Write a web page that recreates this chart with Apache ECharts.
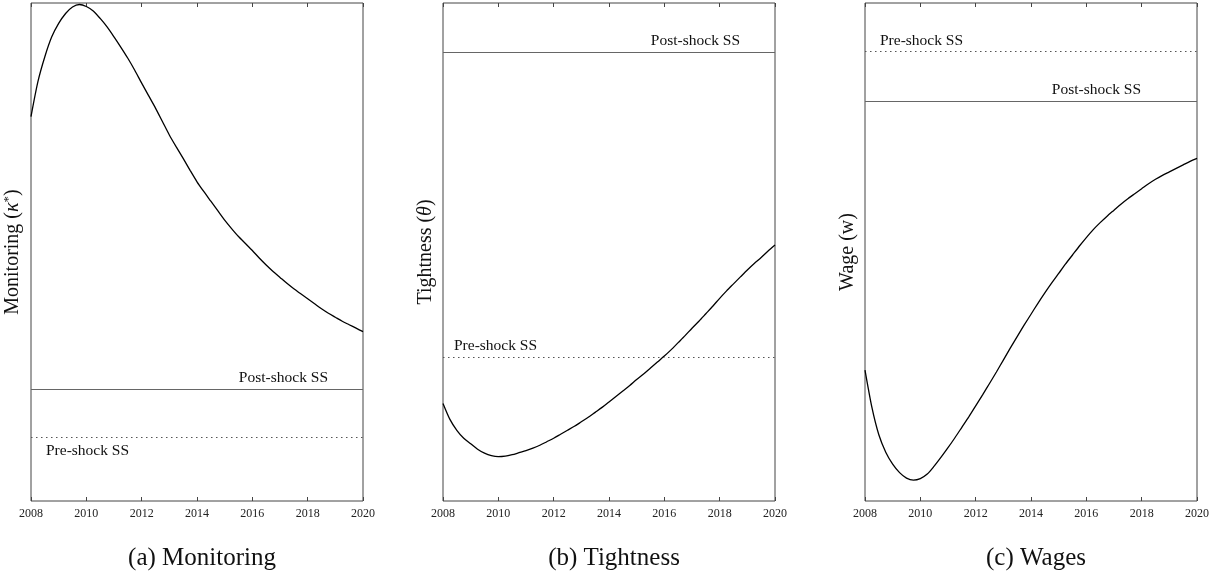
<!DOCTYPE html>
<html>
<head>
<meta charset="utf-8">
<script src="https://cdn.jsdelivr.net/npm/echarts@6/dist/echarts.min.js"></script>
<style>
  html, body { margin: 0; padding: 0; background: #fff; }
  #main { width: 1215px; height: 583px; }
</style>
</head>
<body>
<div id="main"></div>
<script>
// quarter-year grid shared by the three panels
var years = [2008, 2008.25, 2008.5, 2008.75, 2009, 2009.25, 2009.5, 2009.75,
             2010, 2010.25, 2010.5, 2010.75, 2011, 2011.25, 2011.5, 2011.75,
             2012, 2012.25, 2012.5, 2012.75, 2013, 2013.25, 2013.5, 2013.75,
             2014, 2014.25, 2014.5, 2014.75, 2015, 2015.25, 2015.5, 2015.75,
             2016, 2016.25, 2016.5, 2016.75, 2017, 2017.25, 2017.5, 2017.75,
             2018, 2018.25, 2018.5, 2018.75, 2019, 2019.25, 2019.5, 2019.75, 2020];

var monitoring = [77.2, 84.2, 89.2, 93.2, 95.9, 97.9, 99.2, 99.7,
                  99.3, 98.4, 96.9, 95.2, 93.2, 91.1, 88.9, 86.5,
                  83.9, 81.4, 78.9, 76.2, 73.5, 71.1, 68.8, 66.4,
                  64.1, 62.1, 60.2, 58.3, 56.4, 54.7, 53.1, 51.7,
                  50.3, 48.8, 47.4, 46.1, 44.9, 43.7, 42.6, 41.6,
                  40.6, 39.6, 38.6, 37.7, 36.9, 36.1, 35.4, 34.7, 34.0];

var tightness = [19.6, 16.4, 14.2, 12.6, 11.5, 10.4, 9.6, 9.1,
                 8.9, 9.0, 9.3, 9.7, 10.1, 10.6, 11.2, 11.9,
                 12.6, 13.4, 14.2, 15.0, 15.9, 16.8, 17.8, 18.8,
                 19.9, 21.0, 22.1, 23.2, 24.4, 25.5, 26.7, 27.9,
                 29.1, 30.4, 31.8, 33.2, 34.7, 36.1, 37.6, 39.1,
                 40.7, 42.2, 43.6, 45.0, 46.4, 47.7, 48.9, 50.2, 51.4];

var wages = [26.3, 18.8, 13.3, 9.8, 7.4, 5.7, 4.6, 4.2,
             4.5, 5.4, 7.0, 8.8, 10.7, 12.7, 14.8, 16.9,
             19.1, 21.3, 23.6, 25.9, 28.3, 30.7, 33.0, 35.3,
             37.5, 39.7, 41.8, 43.8, 45.7, 47.6, 49.4, 51.2,
             52.9, 54.5, 55.9, 57.2, 58.4, 59.6, 60.7, 61.7,
             62.7, 63.7, 64.6, 65.4, 66.1, 66.8, 67.5, 68.2, 68.8];

// steady states: monitoring, tightness, wages
var ssPre = [12.9, 28.9, 90.4];
var ssPost = [22.5, 90.2, 80.2];

var captions = ['(a) Monitoring', '(b) Tightness', '(c) Wages'];
var yNames = ['Monitoring ({k|κ}{s|*})', 'Tightness ({k|θ})', 'Wage (w)'];

var serif = "'Liberation Serif', 'DejaVu Serif', serif";

var chart = echarts.init(document.getElementById('main'), null, { renderer: 'canvas' });

var gridLefts = [31, 443, 865];
var grids = [], xAxes = [], yAxes = [], titles = [], series = [];

function pairs(xs, ys) {
  return xs.map(function (x, i) { return [x, ys[i]]; });
}

// label placement for the two steady-state lines in each panel
var preLabel = [
  { position: 'insideStartBottom', distance: [15, 6] },
  { position: 'insideStartTop', distance: [11, 3] },
  { position: 'insideStartTop', distance: [15, 2] }
];
var postLabel = [
  { position: 'insideEndTop', distance: [35, 3] },
  { position: 'insideEndTop', distance: [35, 3] },
  { position: 'insideEndTop', distance: [56, 4] }
];

var curves = [pairs(years, monitoring), pairs(years, tightness), pairs(years, wages)];

for (var i = 0; i < 3; i++) {
  grids.push({
    left: gridLefts[i], top: 3, width: 332, height: 498,
    show: true, borderColor: '#444', borderWidth: 1, backgroundColor: 'transparent'
  });
  // bottom axis with labels
  xAxes.push({
    type: 'value', gridIndex: i, min: 2008, max: 2020, interval: 2,
    axisLine: { show: false },
    axisTick: { show: true, inside: true, length: 4, lineStyle: { color: '#444' } },
    axisLabel: {
      color: '#222', fontFamily: serif, fontSize: 12, margin: 7,
      formatter: function (v) { return String(v); }
    },
    splitLine: { show: false }
  });
  // top axis, ticks only
  xAxes.push({
    type: 'value', gridIndex: i, position: 'top', min: 2008, max: 2020, interval: 2,
    axisLine: { show: false },
    axisTick: { show: true, inside: true, length: 4, lineStyle: { color: '#444' } },
    axisLabel: { show: false },
    splitLine: { show: false }
  });
  yAxes.push({
    type: 'value', gridIndex: i, min: 0, max: 100,
    axisLine: { show: false }, axisTick: { show: false },
    axisLabel: { show: false }, splitLine: { show: false },
    name: yNames[i], nameLocation: 'middle', nameGap: 7, nameRotate: 90,
    nameTextStyle: {
      fontFamily: serif, fontSize: 20, color: '#111',
      rich: {
        k: { fontFamily: serif, fontSize: 20, fontStyle: 'italic', color: '#111' },
        s: { fontFamily: serif, fontSize: 13, color: '#111', padding: [0, 0, 9, 0] }
      }
    }
  });
  titles.push({
    text: captions[i], left: gridLefts[i] + 166, top: 541, textAlign: 'center',
    textStyle: { fontFamily: serif, fontSize: 25, fontWeight: 'normal', color: '#111' }
  });
  series.push({
    type: 'line', xAxisIndex: i * 2, yAxisIndex: i,
    data: curves[i], showSymbol: false, smooth: 0.25, silent: true,
    lineStyle: { color: '#000', width: 1.3 },
    markLine: {
      silent: true, symbol: 'none', animation: false,
      data: [
        {
          yAxis: ssPre[i],
          lineStyle: { type: [1.5, 3.5], color: '#555', width: 1.2 },
          label: {
            show: true, formatter: 'Pre-shock SS', position: preLabel[i].position,
            distance: preLabel[i].distance,
            fontFamily: serif, fontSize: 15.5, color: '#111'
          }
        },
        {
          yAxis: ssPost[i],
          lineStyle: { type: 'solid', color: '#666', width: 1.2 },
          label: {
            show: true, formatter: 'Post-shock SS', position: postLabel[i].position,
            distance: postLabel[i].distance,
            fontFamily: serif, fontSize: 15.5, color: '#111'
          }
        }
      ]
    }
  });
}

chart.setOption({
  backgroundColor: '#fff',
  animation: false,
  title: titles,
  grid: grids,
  xAxis: xAxes,
  yAxis: yAxes,
  series: series
});
</script>
</body>
</html>
